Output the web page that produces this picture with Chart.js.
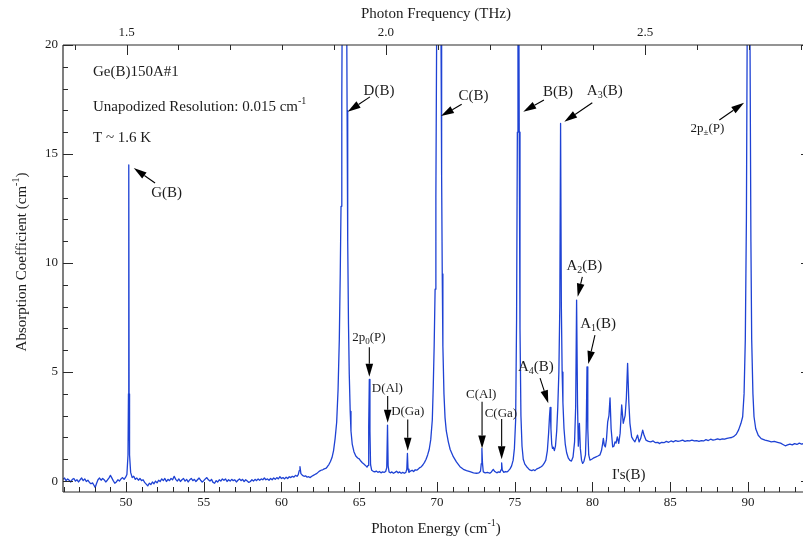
<!DOCTYPE html>
<html>
<head>
<meta charset="utf-8">
<script src="https://cdn.jsdelivr.net/npm/chart.js@4.4.1/dist/chart.umd.min.js"></script>
<style>
  html, body { margin: 0; padding: 0; background: #ffffff; }
  canvas { display: block; }
</style>
</head>
<body>
<canvas id="spectrum" width="803" height="540"></canvas>
<script>
// Far-infrared absorption spectrum of Ge(B)150A#1, T ~ 1.6 K
// Photon energy in cm^-1
const energy = [
  45.95,46.05,46.15,46.25,46.35,46.45,46.55,46.65,46.75,46.85,
  46.95,47.05,47.15,47.25,47.35,47.45,47.55,47.65,47.75,47.85,
  47.95,48.02,48.10,48.20,48.30,48.40,48.50,48.60,48.70,48.80,
  48.90,49.00,49.08,49.18,49.28,49.38,49.48,49.58,49.68,49.78,
  49.88,49.98,50.06,50.13,50.16,50.18,50.20,50.23,50.30,50.40,
  50.50,50.60,50.70,50.80,50.90,51.00,51.10,51.20,51.30,51.40,
  51.50,51.60,51.70,51.80,51.90,52.00,52.10,52.20,52.30,52.40,
  52.50,52.60,52.70,52.80,52.90,53.00,53.10,53.20,53.30,53.40,
  53.50,53.60,53.70,53.80,53.90,54.00,54.10,54.20,54.30,54.40,
  54.50,54.60,54.70,54.80,54.90,55.00,55.10,55.20,55.30,55.40,
  55.50,55.60,55.70,55.80,55.90,56.00,56.10,56.20,56.30,56.40,
  56.50,56.60,56.70,56.80,56.90,57.00,57.10,57.20,57.30,57.40,
  57.50,57.60,57.70,57.80,57.90,58.00,58.10,58.20,58.30,58.40,
  58.50,58.60,58.70,58.80,58.90,59.00,59.10,59.20,59.30,59.40,
  59.50,59.60,59.70,59.80,59.90,60.00,60.10,60.20,60.30,60.40,
  60.50,60.60,60.70,60.80,60.90,61.00,61.08,61.14,61.19,61.25,
  61.35,61.45,61.55,61.65,61.75,61.85,61.95,62.05,62.15,62.25,
  62.35,62.45,62.55,62.65,62.75,62.85,62.95,63.05,63.15,63.25,
  63.35,63.45,63.55,63.64,63.72,63.78,63.83,63.88,63.92,64.05,
  64.18,64.22,64.26,64.31,64.36,64.42,64.47,64.55,64.66,64.78,
  64.90,65.00,65.10,65.20,65.30,65.40,65.50,65.57,65.61,65.65,
  65.69,65.73,65.80,65.90,66.00,66.10,66.20,66.30,66.40,66.50,
  66.60,66.70,66.77,66.82,66.86,66.92,67.00,67.10,67.20,67.30,
  67.40,67.50,67.60,67.70,67.80,67.90,68.00,68.06,68.10,68.14,
  68.20,68.30,68.40,68.50,68.60,68.70,68.80,68.90,69.00,69.10,
  69.20,69.30,69.40,69.50,69.60,69.70,69.76,69.82,69.88,69.93,
  69.98,70.12,70.26,70.30,70.34,70.38,70.45,70.52,70.60,70.73,
  70.85,71.05,71.25,71.48,71.70,71.90,72.12,72.35,72.55,72.70,
  72.80,72.85,72.89,72.93,72.98,73.10,73.25,73.40,73.50,73.62,
  73.72,73.85,73.95,74.05,74.12,74.16,74.20,74.30,74.40,74.50,
  74.60,74.70,74.80,74.90,74.98,75.06,75.12,75.17,75.21,75.25,
  75.29,75.34,75.40,75.47,75.55,75.65,75.77,75.90,76.00,76.10,
  76.20,76.30,76.40,76.50,76.60,76.70,76.80,76.90,77.00,77.10,
  77.18,77.24,77.28,77.33,77.38,77.43,77.48,77.55,77.62,77.70,
  77.77,77.84,77.90,77.95,78.00,78.05,78.10,78.17,78.25,78.34,
  78.45,78.55,78.65,78.75,78.85,78.92,78.98,79.04,79.09,79.16,
  79.22,79.30,79.37,79.45,79.55,79.60,79.65,79.70,79.76,79.84,
  79.95,80.05,80.20,80.35,80.48,80.58,80.65,80.70,80.76,80.83,
  80.90,80.98,81.06,81.13,81.20,81.30,81.38,81.45,81.52,81.60,
  81.69,81.78,81.88,81.98,82.10,82.18,82.26,82.34,82.41,82.52,
  82.62,82.73,82.82,82.90,83.00,83.10,83.23,83.32,83.44,83.60,
  83.75,83.90,84.05,84.20,84.30,84.45,84.60,84.75,84.90,85.05,
  85.20,85.35,85.50,85.65,85.80,85.95,86.10,86.25,86.40,86.55,
  86.70,86.85,87.00,87.15,87.30,87.45,87.60,87.75,87.90,88.05,
  88.20,88.35,88.50,88.65,88.80,88.95,89.10,89.25,89.40,89.55,
  89.66,89.75,89.83,89.90,89.95,90.04,90.13,90.19,90.24,90.32,
  90.39,90.50,90.66,90.85,91.10,91.30,91.50,91.70,91.90,92.10,
  92.25,92.40,92.55,92.70,92.85,93.00,93.15,93.30,93.45,93.60
];

// Absorption coefficient in cm^-1 (saturated lines run above the 20 cm^-1 frame)
const absorption = [
  0.08,0.14,0.02,0.10,0.04,-0.04,0.08,0.12,0.00,0.06,
  -0.04,0.06,0.14,0.02,0.10,-0.02,0.04,-0.06,-0.12,-0.08,
  -0.20,-0.29,-0.12,0.06,0.14,0.04,0.12,0.06,-0.04,0.04,
  0.14,0.26,0.16,0.02,-0.10,-0.04,0.06,0.00,0.10,0.16,
  0.08,0.18,0.30,1.2,4.0,14.5,4.0,1.2,0.40,0.16,
  0.22,0.08,0.14,0.04,0.12,0.02,0.06,-0.06,-0.14,-0.22,
  -0.10,-0.16,-0.04,-0.12,0.00,-0.08,0.04,-0.02,0.10,0.02,
  0.12,-0.02,0.08,0.02,0.12,0.06,0.22,0.08,0.00,0.10,
  -0.02,0.06,0.12,0.00,0.08,-0.04,0.06,0.12,0.02,0.08,
  -0.02,0.06,0.14,0.04,-0.04,0.02,0.10,0.16,0.06,0.00,
  0.08,-0.06,-0.10,0.02,-0.04,0.06,0.00,0.10,0.04,0.10,
  -0.02,0.06,0.00,0.08,0.02,0.06,-0.04,0.04,0.10,0.02,
  0.08,-0.02,0.06,0.00,-0.06,-0.02,0.06,0.00,0.08,0.02,
  0.10,0.04,0.10,0.06,0.14,0.06,0.10,0.04,0.12,0.06,
  0.14,0.08,0.16,0.10,0.20,0.12,0.16,0.10,0.18,0.12,
  0.20,0.16,0.22,0.18,0.26,0.22,0.30,0.48,0.66,0.34,
  0.26,0.22,0.24,0.18,0.20,0.16,0.22,0.26,0.30,0.34,
  0.40,0.46,0.50,0.52,0.56,0.58,0.66,0.76,0.90,1.08,
  1.40,1.95,2.70,4.2,6.5,9.5,12.6,17.5,24,30,
  24,17,11,7.2,4.9,3.2,2.3,1.70,1.35,1.15,
  1.06,1.02,0.92,0.84,0.78,0.72,0.64,0.72,2.5,4.66,
  2.3,0.75,0.50,0.45,0.42,0.46,0.40,0.44,0.38,0.42,
  0.40,0.44,0.62,2.57,0.70,0.42,0.38,0.42,0.36,0.40,
  0.45,0.38,0.42,0.36,0.40,0.36,0.40,0.55,1.27,0.55,
  0.40,0.46,0.50,0.44,0.52,0.50,0.56,0.62,0.66,0.75,
  0.86,1.00,1.20,1.45,1.90,2.8,4.3,6.2,8.8,13,
  20.5,30,20.5,14,9.5,6.2,4.0,2.9,2.3,1.8,
  1.45,1.12,0.88,0.66,0.54,0.48,0.43,0.38,0.36,0.38,
  0.45,0.80,1.50,0.80,0.42,0.38,0.40,0.36,0.42,0.54,
  0.44,0.38,0.42,0.40,0.52,0.84,0.50,0.40,0.44,0.42,
  0.48,0.56,0.70,0.96,1.5,2.8,7.4,16,26,26,
  16,7.0,3.0,1.6,1.0,0.78,0.66,0.56,0.50,0.48,
  0.52,0.48,0.55,0.58,0.62,0.66,0.72,0.82,0.96,1.4,
  2.2,3.0,3.38,2.4,1.7,1.5,1.55,1.4,1.6,2.3,
  3.4,5.0,8.0,16.4,8.0,5.0,3.6,2.4,1.7,1.3,
  1.05,0.95,0.92,1.1,1.8,3.4,8.3,3.5,1.6,2.65,
  1.5,0.95,0.81,0.90,1.2,2.4,5.24,2.4,1.2,0.96,
  1.00,1.05,1.10,1.15,1.20,1.40,1.70,1.96,1.65,1.57,
  1.90,2.72,3.00,3.82,2.40,1.57,1.60,1.80,1.75,2.03,
  1.73,2.20,3.49,2.65,3.00,3.80,5.40,3.60,2.65,2.03,
  1.90,1.80,1.95,2.11,1.80,1.95,2.34,2.10,1.88,1.82,
  1.80,1.84,1.76,1.78,1.72,1.78,1.76,1.82,1.78,1.84,
  1.80,1.86,1.82,1.84,1.88,1.82,1.86,1.84,1.88,1.84,
  1.86,1.82,1.86,1.84,1.90,1.86,1.92,1.88,1.90,1.94,
  1.90,1.94,1.92,1.96,1.98,2.00,2.05,2.15,2.35,2.65,
  2.95,4.0,6.5,12,20.5,30,20.5,11,6.5,4.0,
  2.95,2.40,2.10,1.95,1.88,1.84,1.80,1.82,1.78,1.74,
  1.68,1.62,1.66,1.70,1.66,1.72,1.68,1.74,1.70,1.72
];

// Axis tick labels
const energyTicks = [50, 55, 60, 65, 70, 75, 80, 85, 90];
const absorptionTicks = [0, 5, 10, 15, 20];
const frequencyTicks = ['1.5', '2.0', '2.5'];

const CM_TO_THZ = 0.0299792458;   // 1 cm^-1 = 0.02998 THz
const X_MIN = 45.95, X_MAX = 93.54;
const Y_MIN = -0.5, Y_MAX = 20;

const SERIF = '"Liberation Serif", "Times New Roman", Times, serif';
const INK = '#1c1c1c';
const TRACE = '#1e42d4';

// Line identifications: text anchored in data coordinates (cm^-1, cm^-1)
const annotations = [
  { segs: [{ t: 'Ge(B)150A#1' }], at: [47.88, 18.76], size: 15, align: 'left' },
  { segs: [{ t: 'Unapodized Resolution: 0.015 cm' }, { t: '-1', sup: true }], at: [47.88, 17.16], size: 15, align: 'left' },
  { segs: [{ t: 'T ~ 1.6 K' }], at: [47.88, 15.73], size: 15, align: 'left' },
  { segs: [{ t: 'G(B)' }], at: [52.61, 13.21], size: 15 },
  { segs: [{ t: 'D(B)' }], at: [66.27, 17.89], size: 15 },
  { segs: [{ t: 'C(B)' }], at: [72.35, 17.67], size: 15 },
  { segs: [{ t: 'B(B)' }], at: [77.78, 17.86], size: 15 },
  { segs: [{ t: 'A' }, { t: '3', sub: true }, { t: '(B)' }], at: [80.79, 17.90], size: 15 },
  { segs: [{ t: '2p' }, { t: '\u00b1', sub: true }, { t: '(P)' }], at: [87.39, 16.18], size: 13 },
  { segs: [{ t: 'A' }, { t: '2', sub: true }, { t: '(B)' }], at: [79.48, 9.88], size: 15 },
  { segs: [{ t: 'A' }, { t: '1', sub: true }, { t: '(B)' }], at: [80.36, 7.20], size: 15 },
  { segs: [{ t: 'A' }, { t: '4', sub: true }, { t: '(B)' }], at: [76.36, 5.22], size: 15 },
  { segs: [{ t: '2p' }, { t: '0', sub: true }, { t: '(P)' }], at: [65.62, 6.59], size: 13 },
  { segs: [{ t: 'D(Al)' }], at: [66.81, 4.26], size: 13 },
  { segs: [{ t: 'D(Ga)' }], at: [68.12, 3.21], size: 13 },
  { segs: [{ t: 'C(Al)' }], at: [72.85, 3.95], size: 13 },
  { segs: [{ t: 'C(Ga)' }], at: [74.11, 3.11], size: 13 },
  { segs: [{ t: "I's(B)" }], at: [82.34, 0.28], size: 15 }
];

// Pointer arrows: [fromEnergy, fromAbs, toEnergy, toAbs]
const pointers = [
  [51.87, 13.67, 50.50, 14.36],
  [65.69, 17.62, 64.26, 16.94],
  [71.59, 17.28, 70.26, 16.74],
  [76.88, 17.48, 75.55, 16.94],
  [79.99, 17.35, 78.19, 16.48],
  [88.16, 16.56, 89.75, 17.35],
  [79.35, 9.37, 79.05, 8.46],
  [80.16, 6.70, 79.73, 5.37],
  [76.63, 4.72, 77.16, 3.57],
  [65.65, 6.14, 65.65, 4.79],
  [66.83, 3.90, 66.83, 2.68],
  [68.12, 2.83, 68.12, 1.39],
  [72.90, 3.64, 72.90, 1.50],
  [74.16, 2.85, 74.16, 1.00]
];

const points = energy.map((e, i) => ({ x: e, y: absorption[i] }));

function segFont(s, size) {
  const sz = (s.sub || s.sup) ? Math.round(size * 0.68) : size;
  return sz + 'px ' + SERIF;
}

function drawRich(ctx, segs, x, y, size, align) {
  let w = 0;
  segs.forEach(s => { ctx.font = segFont(s, size); w += ctx.measureText(s.t).width; });
  let cx = align === 'left' ? x : align === 'right' ? x - w : x - w / 2;
  ctx.textAlign = 'left';
  ctx.textBaseline = 'middle';
  segs.forEach(s => {
    ctx.font = segFont(s, size);
    const dy = s.sub ? size * 0.3 : s.sup ? -size * 0.36 : 0;
    ctx.fillText(s.t, cx, y + dy);
    cx += ctx.measureText(s.t).width;
  });
}

function drawArrow(ctx, x1, y1, x2, y2) {
  const ang = Math.atan2(y2 - y1, x2 - x1);
  const L = 13, W = 3.8;
  const bx = x2 - L * Math.cos(ang), by = y2 - L * Math.sin(ang);
  ctx.beginPath();
  ctx.moveTo(x1, y1);
  ctx.lineTo(bx, by);
  ctx.stroke();
  ctx.beginPath();
  ctx.moveTo(x2, y2);
  ctx.lineTo(bx + W * Math.sin(ang), by - W * Math.cos(ang));
  ctx.lineTo(bx - W * Math.sin(ang), by + W * Math.cos(ang));
  ctx.closePath();
  ctx.fill();
}

// Frame, inward ticks, tick labels, axis titles and line identifications
const framePlugin = {
  id: 'frame',
  afterDraw(chart) {
    const ctx = chart.ctx;
    const xs = chart.scales.x, ys = chart.scales.y;
    const { left, right, top, bottom } = chart.chartArea;
    ctx.save();
    ctx.strokeStyle = '#2a2a2a';
    ctx.fillStyle = INK;
    ctx.lineWidth = 1.2;

    // axis lines: left, bottom, top
    ctx.beginPath();
    ctx.moveTo(left, top); ctx.lineTo(left, bottom);
    ctx.moveTo(left, bottom); ctx.lineTo(right, bottom);
    ctx.moveTo(left, top); ctx.lineTo(right, top);
    ctx.stroke();

    ctx.lineWidth = 1;
    // bottom energy ticks (1 cm^-1 minor, 5 cm^-1 major)
    ctx.beginPath();
    for (let v = Math.ceil(X_MIN); v <= Math.floor(X_MAX); v++) {
      const px = Math.round(xs.getPixelForValue(v)) + 0.5;
      const len = v % 5 === 0 ? 10 : 5;
      ctx.moveTo(px, bottom); ctx.lineTo(px, bottom - len);
    }
    // top frequency ticks (0.1 THz minor, 0.5 THz major)
    for (let k = Math.ceil(X_MIN * CM_TO_THZ * 10); k <= Math.floor(X_MAX * CM_TO_THZ * 10); k++) {
      const px = Math.round(xs.getPixelForValue(k / 10 / CM_TO_THZ)) + 0.5;
      const len = k % 5 === 0 ? 10 : 5;
      ctx.moveTo(px, top); ctx.lineTo(px, top + len);
    }
    // left absorption ticks
    for (let v = Math.ceil(Y_MIN); v <= Math.floor(Y_MAX); v++) {
      const py = Math.round(ys.getPixelForValue(v)) + 0.5;
      const len = v % 5 === 0 ? 10 : 5;
      ctx.moveTo(left, py); ctx.lineTo(left + len, py);
    }
    // right frame ticks at the edge
    absorptionTicks.forEach(v => {
      const py = Math.round(ys.getPixelForValue(v)) + 0.5;
      ctx.moveTo(right, py); ctx.lineTo(right - 2, py);
    });
    ctx.stroke();

    // tick labels
    ctx.fillStyle = INK;
    ctx.font = '13px ' + SERIF;
    ctx.textBaseline = 'middle';
    ctx.textAlign = 'center';
    energyTicks.forEach(v => ctx.fillText(String(v), xs.getPixelForValue(v), bottom + 11));
    frequencyTicks.forEach(t => ctx.fillText(t, xs.getPixelForValue(parseFloat(t) / CM_TO_THZ), top - 12));
    ctx.textAlign = 'right';
    absorptionTicks.forEach(v => ctx.fillText(String(v), left - 5, ys.getPixelForValue(v)));

    // axis titles
    const cx = 436;
    drawRich(ctx, [{ t: 'Photon Frequency (THz)' }], cx, 14, 15, 'center');
    drawRich(ctx, [{ t: 'Photon Energy (cm' }, { t: '-1', sup: true }, { t: ')' }], cx, 529, 15, 'center');
    ctx.save();
    ctx.translate(22, 262);
    ctx.rotate(-Math.PI / 2);
    drawRich(ctx, [{ t: 'Absorption Coefficient (cm' }, { t: '-1', sup: true }, { t: ')' }], 0, 0, 15, 'center');
    ctx.restore();

    // line identifications
    annotations.forEach(a => {
      drawRich(ctx, a.segs, xs.getPixelForValue(a.at[0]), ys.getPixelForValue(a.at[1]), a.size, a.align || 'center');
    });
    ctx.strokeStyle = '#000';
    ctx.fillStyle = '#000';
    ctx.lineWidth = 1.1;
    pointers.forEach(p => {
      drawArrow(ctx,
        xs.getPixelForValue(p[0]), ys.getPixelForValue(p[1]),
        xs.getPixelForValue(p[2]), ys.getPixelForValue(p[3]));
    });
    ctx.restore();
  }
};

new Chart(document.getElementById('spectrum'), {
  type: 'line',
  data: {
    datasets: [{
      label: 'Ge(B)150A#1',
      data: points,
      borderColor: TRACE,
      borderWidth: 1.3,
      borderJoinStyle: 'round',
      pointRadius: 0,
      fill: false,
      tension: 0
    }]
  },
  options: {
    responsive: false,
    animation: false,
    devicePixelRatio: 1,
    layout: { padding: { left: 63, right: 0, top: 45, bottom: 48 } },
    scales: {
      x: { type: 'linear', min: X_MIN, max: X_MAX, display: false },
      y: { type: 'linear', min: Y_MIN, max: Y_MAX, display: false }
    },
    plugins: {
      legend: { display: false },
      tooltip: { enabled: false }
    }
  },
  plugins: [framePlugin]
});
</script>
</body>
</html>
